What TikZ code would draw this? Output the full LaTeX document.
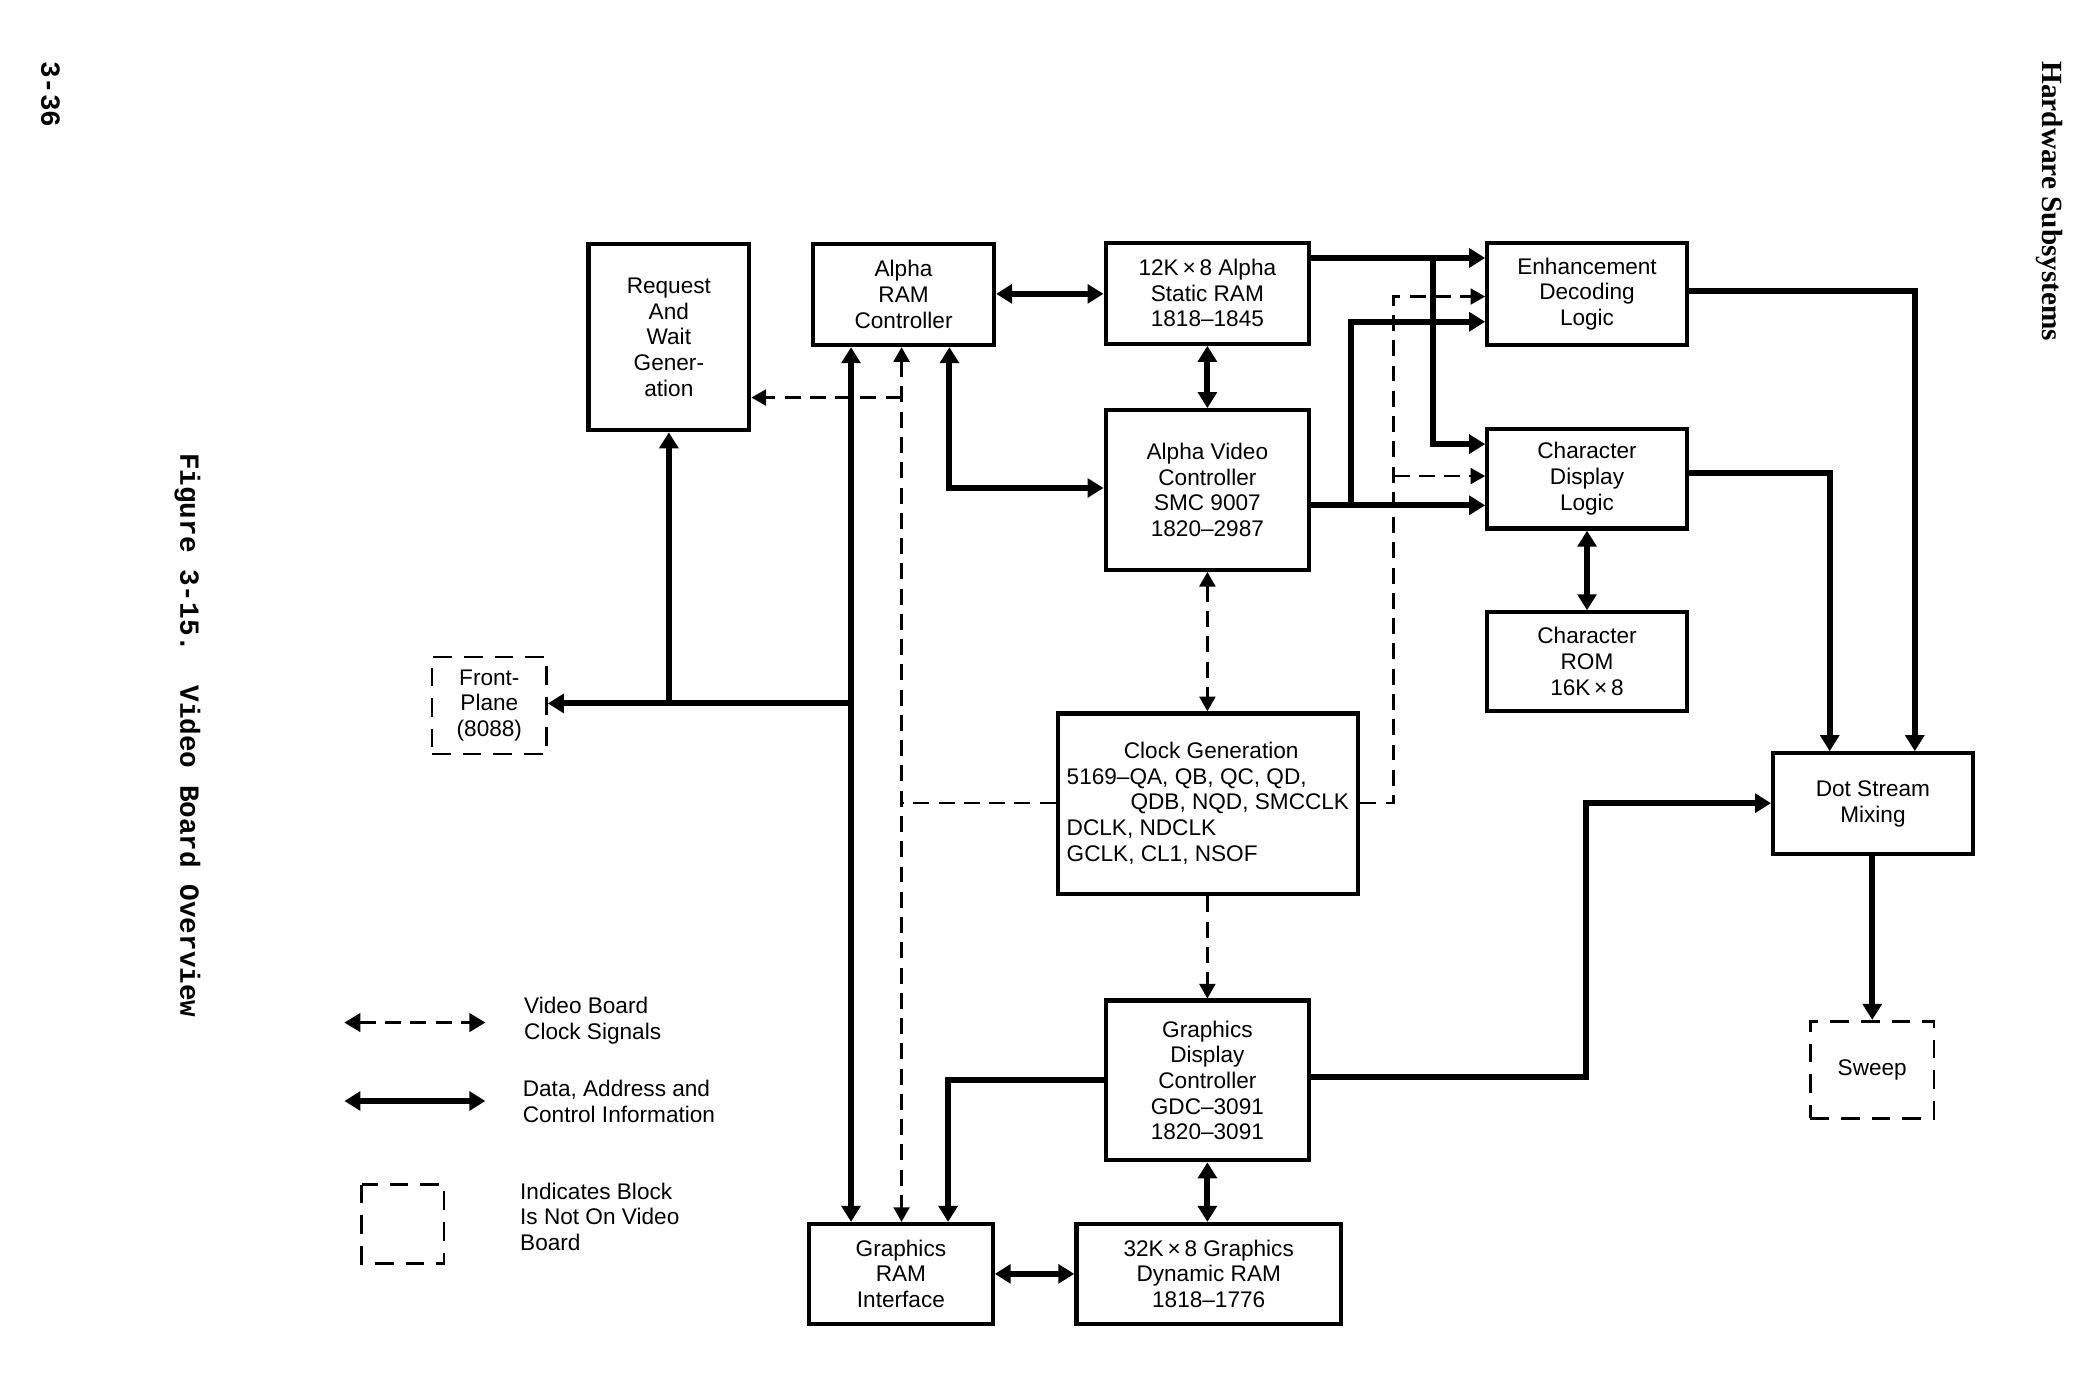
\documentclass[tikz,border=0pt]{standalone}
\usepackage{fontspec}
\setmainfont{Liberation Sans}
\newfontfamily\capfont{Liberation Mono}
\newfontfamily\hdrfont{Liberation Serif}
\usetikzlibrary{arrows.meta,calc}
\begin{document}
\begin{tikzpicture}[x=1pt,y=-1pt,
  >={Triangle[length=12pt,width=14pt]},
  txt/.style={font=\fontsize{17}{19.3}\selectfont, align=center, inner sep=0pt},
  lgd/.style={font=\fontsize{17}{19.3}\selectfont, align=left, inner sep=0pt, anchor=west},
  blk/.style={txt, draw, line width=3.2pt},
  dbox/.style={txt, draw, line width=2pt, dash pattern=on 14pt off 9pt},
  bus/.style={line width=4.5pt},
  sig/.style={line width=1.8pt, dash pattern=on 12pt off 7pt, >={Triangle[length=11pt,width=12pt]}},
  side/.style={inner sep=0pt, rotate=-90}
]
\useasboundingbox (0,0) rectangle (1568,1040.8);

% side texts
\node[side, font=\capfont\bfseries\fontsize{20.8}{22}\selectfont] (pgno) at (38,71) {3-36};
\node[side, font=\capfont\bfseries\fontsize{20.8}{22}\selectfont] (caption) at (141,553) {Figure 3-15.\ \ Video Board Overview};
\node[side, font=\hdrfont\bfseries\fontsize{22}{24}\selectfont] (header) at (1541,151.5) {Hardware Subsystems};

% blocks
\node[blk, minimum width=121pt, minimum height=140pt] (rwg) at (503,253.5) {Request\\And\\Wait\\Gener-\\ation};
\node[blk, minimum width=136pt, minimum height=76pt] (aram) at (679.5,221.5) {Alpha\\RAM\\Controller};
\node[blk, minimum width=153pt, minimum height=76pt] (sram) at (908,220.5) {12K\,×\,8 Alpha\\Static RAM\\1818\textendash1845};
\node[blk, minimum width=150pt, minimum height=77pt] (enh) at (1193.5,221) {Enhancement\\Decoding\\Logic};
\node[blk, minimum width=153pt, minimum height=120pt] (avc) at (908,368.5) {Alpha Video\\Controller\\SMC 9007\\1820\textendash2987};
\node[blk, minimum width=150pt, minimum height=75pt] (cdl) at (1193.5,360) {Character\\Display\\Logic};
\node[blk, minimum width=150pt, minimum height=74pt] (crom) at (1193.5,497.5) {Character\\ROM\\16K\,×\,8};
\node[dbox, minimum width=86pt, minimum height=73pt] (fp) at (368,530.5) {Front-\\Plane\\(8088)};
\node[blk, minimum width=226pt, minimum height=136pt] (clk) at (908.5,604.5) {};
\node[lgd] (clktext) at (802,604) {\hspace*{43pt}Clock Generation\\5169\textendash QA, QB, QC, QD,\\\hspace*{48pt}QDB, NQD, SMCCLK\\DCLK, NDCLK\\GCLK, CL1, NSOF};
\node[blk, minimum width=150pt, minimum height=76pt] (dsm) at (1408.5,604.5) {Dot Stream\\Mixing};
\node[dbox, minimum width=93pt, minimum height=73pt] (sweep) at (1408,804.5) {Sweep};
\node[blk, minimum width=153pt, minimum height=120pt] (gdc) at (908,812.5) {Graphics\\Display\\Controller\\GDC\textendash3091\\1820\textendash3091};
\node[blk, minimum width=138pt, minimum height=75pt] (gri) at (677.5,958) {Graphics\\RAM\\Interface};
\node[blk, minimum width=199pt, minimum height=75pt] (gdram) at (909,958) {32K\,×\,8 Graphics\\Dynamic RAM\\1818\textendash1776};

% helper coordinates
\foreach \v in {502,640,678,713,714,908,1016,1048,1078,1193,1376,1408,1440}{\coordinate (x\v) at (\v,0);}
\foreach \v in {194,219,221,223,242,299,334,356,358,367,380,529,604,810,812,958}{\coordinate (y\v) at (0,\v);}

% data / address / control connectors
\draw[bus,<->] (aram.east |- y221) -- (sram.west |- y221);
\draw[bus,<->] (x908 |- sram.south) -- (x908 |- avc.north);
\draw[bus,<->] (x714 |- aram.south) |- (avc.west |- y367);
\draw[bus,->] (sram.east |- y194) -- (enh.west |- y194);
\draw[bus,->] (x1078 |- y194) |- (cdl.west |- y334);
\draw[bus,->] (avc.east |- y380) -- (cdl.west |- y380);
\draw[bus,->] (x1016 |- y380) |- (enh.west |- y242);
\draw[bus,->] (enh.east |- y219) -| (x1440 |- dsm.north);
\draw[bus,->] (cdl.east |- y356) -| (x1376 |- dsm.north);
\draw[bus,<->] (cdl.south) -- (crom.north);
\draw[bus,->] (x1408 |- dsm.south) -- (x1408 |- sweep.north);
\draw[bus,->] (gdc.east |- y810) -| (x1193 |- y604) -- (dsm.west |- y604);
\draw[bus,<->] (x908 |- gdc.south) -- (x908 |- gdram.north);
\draw[bus,<->] (gri.east |- y958) -- (gdram.west |- y958);
\draw[bus,->] (gdc.west |- y812) -| (x713 |- gri.north);
\draw[bus,<->] (x640 |- aram.south) -- (x640 |- gri.north);
\draw[bus,->] (x640 |- y529) -- (fp.east |- y529);
\draw[bus,->] (rwg.south |- y529) -- (rwg.south);

% clock signals
\draw[sig,->] (clk.east |- y604) -| (x1048 |- y223) -- (enh.west |- y223);
\draw[sig,->] (x1048 |- y358) -- (cdl.west |- y358);
\draw[sig,<->] (x908 |- avc.south) -- (x908 |- clk.north);
\draw[sig,->] (x908 |- clk.south) -- (x908 |- gdc.north);
\draw[sig,<->] (x678 |- aram.south) -- (x678 |- gri.north);
\draw[sig,->] (x678 |- y299) -- (rwg.east |- y299);
\draw[sig] (clk.west |- y604) -- (x678 |- y604);

% legend
\coordinate (la1) at (259,769); \coordinate (la2) at (365,769);
\coordinate (lb1) at (259,828); \coordinate (lb2) at (365,828);
\coordinate (lc1) at (272,891); \coordinate (lc2) at (334,950);
\draw[sig,<->,>={Triangle[length=12pt,width=14pt]}] (la1) -- (la2);
\draw[bus,<->] (lb1) -- (lb2);
\draw[line width=2pt, dash pattern=on 14pt off 9pt] (lc1) rectangle (lc2);
\node[lgd] (lt1) at (394,767.5) {Video Board\\Clock Signals};
\node[lgd] (lt2) at (393,828.5) {Data, Address and\\Control Information};
\node[lgd] (lt3) at (391,915) {Indicates Block\\Is Not On Video\\Board};
\end{tikzpicture}
\end{document}
